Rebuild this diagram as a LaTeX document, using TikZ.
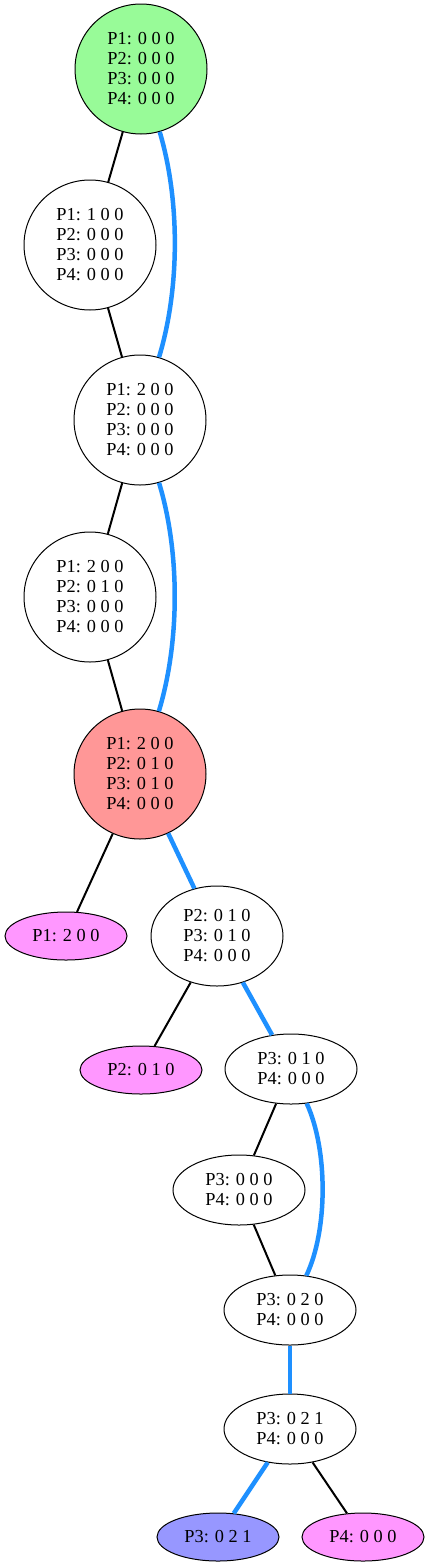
\documentclass[tikz,border=0pt]{standalone}
\usepackage{fontspec}
\setmainfont{Liberation Serif}
\usepackage{xcolor}
\usepackage{tikz}
\usetikzlibrary{shapes.geometric}
\definecolor{palegrn}{RGB}{152,251,152}
\definecolor{palered}{RGB}{255,151,151}
\definecolor{palemag}{RGB}{255,151,255}
\definecolor{paleblu}{RGB}{151,151,255}
\definecolor{pathblu}{RGB}{30,144,255}

\begin{document}
\begin{tikzpicture}[x=1pt,y=-1pt,
		state/.style={draw,ellipse,line width=1pt,inner sep=0pt,align=center,font=\fontsize{18.3}{20}\selectfont,minimum width=132pt,minimum height=70pt},
		bigstate/.style={state,minimum height=130pt},
		leafstate/.style={state,minimum width=122pt,minimum height=48pt},
		tedge/.style={line width=2pt,black},
		pedge/.style={line width=4.5pt,pathblu}]
		\useasboundingbox (0,0) rectangle (429,1566);
		\node[bigstate,fill=palegrn] (s0) at (141,69) {P1: 0 0 0\\P2: 0 0 0\\P3: 0 0 0\\P4: 0 0 0};
		\node[bigstate] (s1) at (90,245) {P1: 1 0 0\\P2: 0 0 0\\P3: 0 0 0\\P4: 0 0 0};
		\node[bigstate] (s2) at (140,420) {P1: 2 0 0\\P2: 0 0 0\\P3: 0 0 0\\P4: 0 0 0};
		\node[bigstate] (s3) at (90,597) {P1: 2 0 0\\P2: 0 1 0\\P3: 0 0 0\\P4: 0 0 0};
		\node[bigstate,fill=palered] (s4) at (140,774) {P1: 2 0 0\\P2: 0 1 0\\P3: 0 1 0\\P4: 0 0 0};
		\node[leafstate,fill=palemag] (p1) at (66,936) {P1: 2 0 0};
		\node[state,minimum height=100pt] (s5) at (217,936) {P2: 0 1 0\\P3: 0 1 0\\P4: 0 0 0};
		\node[leafstate,fill=palemag] (p2) at (141,1070) {P2: 0 1 0};
		\node[state] (s6) at (291,1069) {P3: 0 1 0\\P4: 0 0 0};
		\node[state] (s7) at (239,1190) {P3: 0 0 0\\P4: 0 0 0};
		\node[state] (s8) at (290,1310) {P3: 0 2 0\\P4: 0 0 0};
		\node[state] (s9) at (290,1429) {P3: 0 2 1\\P4: 0 0 0};
		\node[leafstate,fill=paleblu] (p3) at (218,1537) {P3: 0 2 1};
		\node[leafstate,fill=palemag] (p4) at (363,1537) {P4: 0 0 0};
		% tree edges
		\draw[tedge] (s0)--(s1);
		\draw[tedge] (s1)--(s2);
		\draw[tedge] (s2)--(s3);
		\draw[tedge] (s3)--(s4);
		\draw[tedge] (s4)--(p1);
		\draw[tedge] (s5)--(p2);
		\draw[tedge] (s6)--(s7);
		\draw[tedge] (s7)--(s8);
		\draw[tedge] (s9)--(p4);
		% path edges
		\draw[pedge] (s0) .. controls (180,200) and (180,288) .. (s2);
		\draw[pedge] (s2) .. controls (180,552) and (180,641) .. (s4);
		\draw[pedge] (s4)--(s5);
		\draw[pedge] (s5)--(s6);
		\draw[pedge] (s6) .. controls (328,1150) and (328,1230) .. (s8);
		\draw[pedge] (s8)--(s9);
		\draw[pedge] (s9)--(p3);
	\end{tikzpicture}
\end{document}
